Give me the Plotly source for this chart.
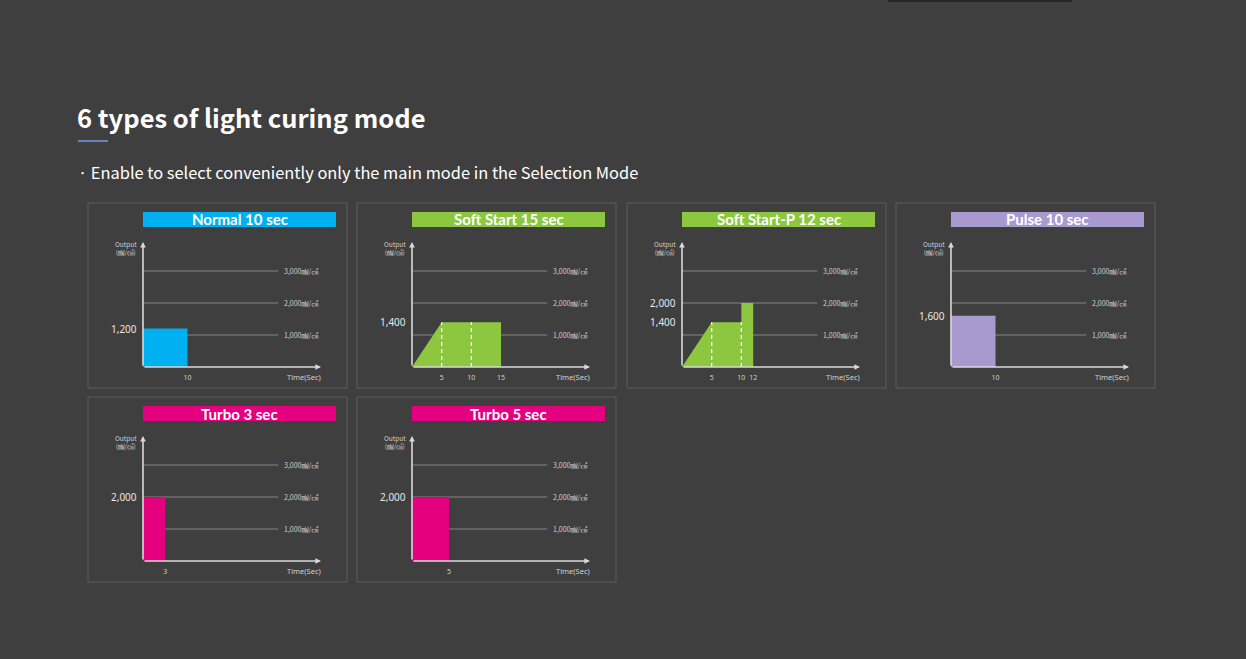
import plotly.graph_objects as go

# ---------------- data ----------------
mode_titles = ["Normal 10 sec", "Soft Start 15 sec", "Soft Start-P 12 sec",
               "Pulse 10 sec", "Turbo 3 sec", "Turbo 5 sec"]
profile_time = [[0, 0, 10, 10], [0, 5, 15, 15], [0, 5, 10, 10, 12, 12],
                [0, 0, 10, 10], [0, 0, 3, 3], [0, 0, 5, 5]]
profile_output = [[0, 1200, 1200, 0], [0, 1400, 1400, 0], [0, 1400, 1400, 2000, 2000, 0],
                  [0, 1600, 1600, 0], [0, 2000, 2000, 0], [0, 2000, 2000, 0]]
time_ticks = [[10], [5, 10, 15], [5, 10, 12], [10], [3], [5]]
output_labels = [[1200], [1400], [1400, 2000], [1600], [2000], [2000]]
dashed_times = [[], [5, 10], [5, 10], [], [], []]
dashed_level = [0, 1400, 1400, 0, 0, 0]
grid_levels = [1000, 2000, 3000]
mode_colors = ["#00b0f0", "#8dc63f", "#8dc63f", "#a899cf", "#e4007f", "#e4007f"]

title_text = "6 types of light curing mode"
subtitle_text = "· Enable to select conveniently only the main mode in the Selection Mode"
unit = "㎽/㎠"

# ---------------- layout config ----------------
W, H = 1246, 659
BG = "#3f3f3f"
panel_pos = [(88, 203), (357, 203), (627, 203), (896, 203), (88, 397), (357, 397)]
x_max = [40, 30, 30, 40, 24, 24]
Y_MAX = 3906
AX_W, AX_H = 178, 125


def px(x):
    return x / W


def py(y):
    return 1 - y / H


fig = go.Figure()
shapes = []
annotations = []
layout = {}

for i in range(6):
    n = i + 1
    sx = "" if n == 1 else str(n)
    xa, ya = "x" + sx, "y" + sx
    X, Y = panel_pos[i]
    ox, oy = X + 55, Y + 164

    layout["xaxis" + sx] = dict(domain=[px(ox), px(ox + AX_W)], range=[0, x_max[i]],
                                anchor=ya, showgrid=False, zeroline=False, showline=False,
                                tickvals=time_ticks[i], ticks="", ticklen=0,
                                ticklabelstandoff=5,
                                tickfont=dict(size=7, color="#cfcfcf", family="Noto Sans"),
                                fixedrange=True)
    layout["yaxis" + sx] = dict(domain=[py(oy), py(oy - AX_H)], range=[0, Y_MAX],
                                anchor=xa, showgrid=False, zeroline=False, showline=False,
                                showticklabels=False, fixedrange=True)

    # panel box
    shapes.append(dict(type="rect", xref="paper", yref="paper",
                       x0=px(X), x1=px(X + 259), y0=py(Y + 185), y1=py(Y),
                       line=dict(color="#5c5c5c", width=1), fillcolor="rgba(0,0,0,0)",
                       layer="below"))
    # title bar
    shapes.append(dict(type="rect", xref="paper", yref="paper",
                       x0=px(X + 55), x1=px(X + 248), y0=py(Y + 24), y1=py(Y + 9),
                       line=dict(width=0), fillcolor=mode_colors[i], layer="below"))
    annotations.append(dict(xref="paper", yref="paper", x=px(X + 151.5), y=py(Y + 16.5),
                            text="<b>" + mode_titles[i] + "</b>", showarrow=False,
                            xanchor="center", yanchor="middle",
                            font=dict(size=15, color="white", family="Lato")))

    # grid lines + labels
    for lv in grid_levels:
        shapes.append(dict(type="line", xref=xa + " domain", yref=ya, x0=0, x1=0.76,
                           y0=lv, y1=lv, line=dict(color="#626262", width=2), layer="below"))
        annotations.append(dict(xref=xa + " domain", yref=ya, x=1, y=lv,
                                text=f"{lv:,}{unit}", showarrow=False,
                                xanchor="right", yanchor="middle", xshift=-1,
                                font=dict(size=7, color="#cfcfcf", family="Noto Sans CJK KR")))

    # profile fill
    fig.add_trace(go.Scatter(x=profile_time[i], y=profile_output[i], xaxis=xa, yaxis=ya,
                             mode="lines", fill="toself", fillcolor=mode_colors[i],
                             line=dict(width=0, color=mode_colors[i]),
                             hoverinfo="skip", showlegend=False))
    # dashed guides
    for t in dashed_times[i]:
        fig.add_trace(go.Scatter(x=[t, t], y=[0, dashed_level[i]], xaxis=xa, yaxis=ya,
                                 mode="lines", line=dict(color="white", width=1.3, dash="4px,3px"),
                                 hoverinfo="skip", showlegend=False))

    # value labels
    for v in output_labels[i]:
        annotations.append(dict(xref=xa + " domain", yref=ya, x=0, y=v,
                                text=f"{v:,}", showarrow=False, xanchor="right",
                                yanchor="middle", xshift=-4,
                                font=dict(size=10, color="#e6e6e6", family="Noto Sans")))

    # axis arrows
    annotations.append(dict(xref=xa + " domain", yref=ya + " domain", x=0, y=1,
                            ax=0, ay=AX_H, text="", showarrow=True, arrowhead=2,
                            arrowsize=0.7, arrowwidth=1.6, arrowcolor="#d9d9d9"))
    annotations.append(dict(xref=xa + " domain", yref=ya + " domain", x=1, y=0,
                            ax=-AX_W, ay=0, text="", showarrow=True, arrowhead=2,
                            arrowsize=0.7, arrowwidth=1.6, arrowcolor="#d9d9d9"))
    # axis titles
    annotations.append(dict(xref=xa + " domain", yref=ya + " domain", x=0, y=1,
                            text="Output<br>(" + unit + ")", showarrow=False,
                            xanchor="right", yanchor="top", xshift=-4, yshift=5,
                            align="center",
                            font=dict(size=6.5, color="#d0d0d0", family="Noto Sans CJK KR")))
    annotations.append(dict(xref=xa + " domain", yref=ya + " domain", x=1, y=0,
                            text="Time(Sec)", showarrow=False, xanchor="right",
                            yanchor="middle", yshift=-10, xshift=2,
                            font=dict(size=7.5, color="#d0d0d0", family="Noto Sans")))

# header
annotations.append(dict(xref="paper", yref="paper", x=px(79), y=py(116.5), text=title_text,
                        showarrow=False, xanchor="left", yanchor="middle", xshift=-4,
                        font=dict(size=25.5, color="white", family="Noto Sans CJK KR", weight="bold")))
shapes.append(dict(type="line", xref="paper", yref="paper", x0=px(78), x1=px(108),
                   y0=py(141), y1=py(141), line=dict(color="#6f7fc4", width=2)))
annotations.append(dict(xref="paper", yref="paper", x=px(79), y=py(172), text=subtitle_text,
                        showarrow=False, xanchor="left", yanchor="middle", xshift=-3,
                        font=dict(size=16.4, color="white", family="Noto Sans CJK KR")))
shapes.append(dict(type="rect", xref="paper", yref="paper", x0=px(888), x1=px(1072),
                   y0=py(2), y1=py(0), line=dict(width=0), fillcolor="#262626"))

fig.update_layout(width=W, height=H, margin=dict(l=0, r=0, t=0, b=0),
                  paper_bgcolor=BG, plot_bgcolor="rgba(0,0,0,0)",
                  shapes=shapes, annotations=annotations, showlegend=False, **layout)

fig.write_html("out.html", config={"displayModeBar": False})
